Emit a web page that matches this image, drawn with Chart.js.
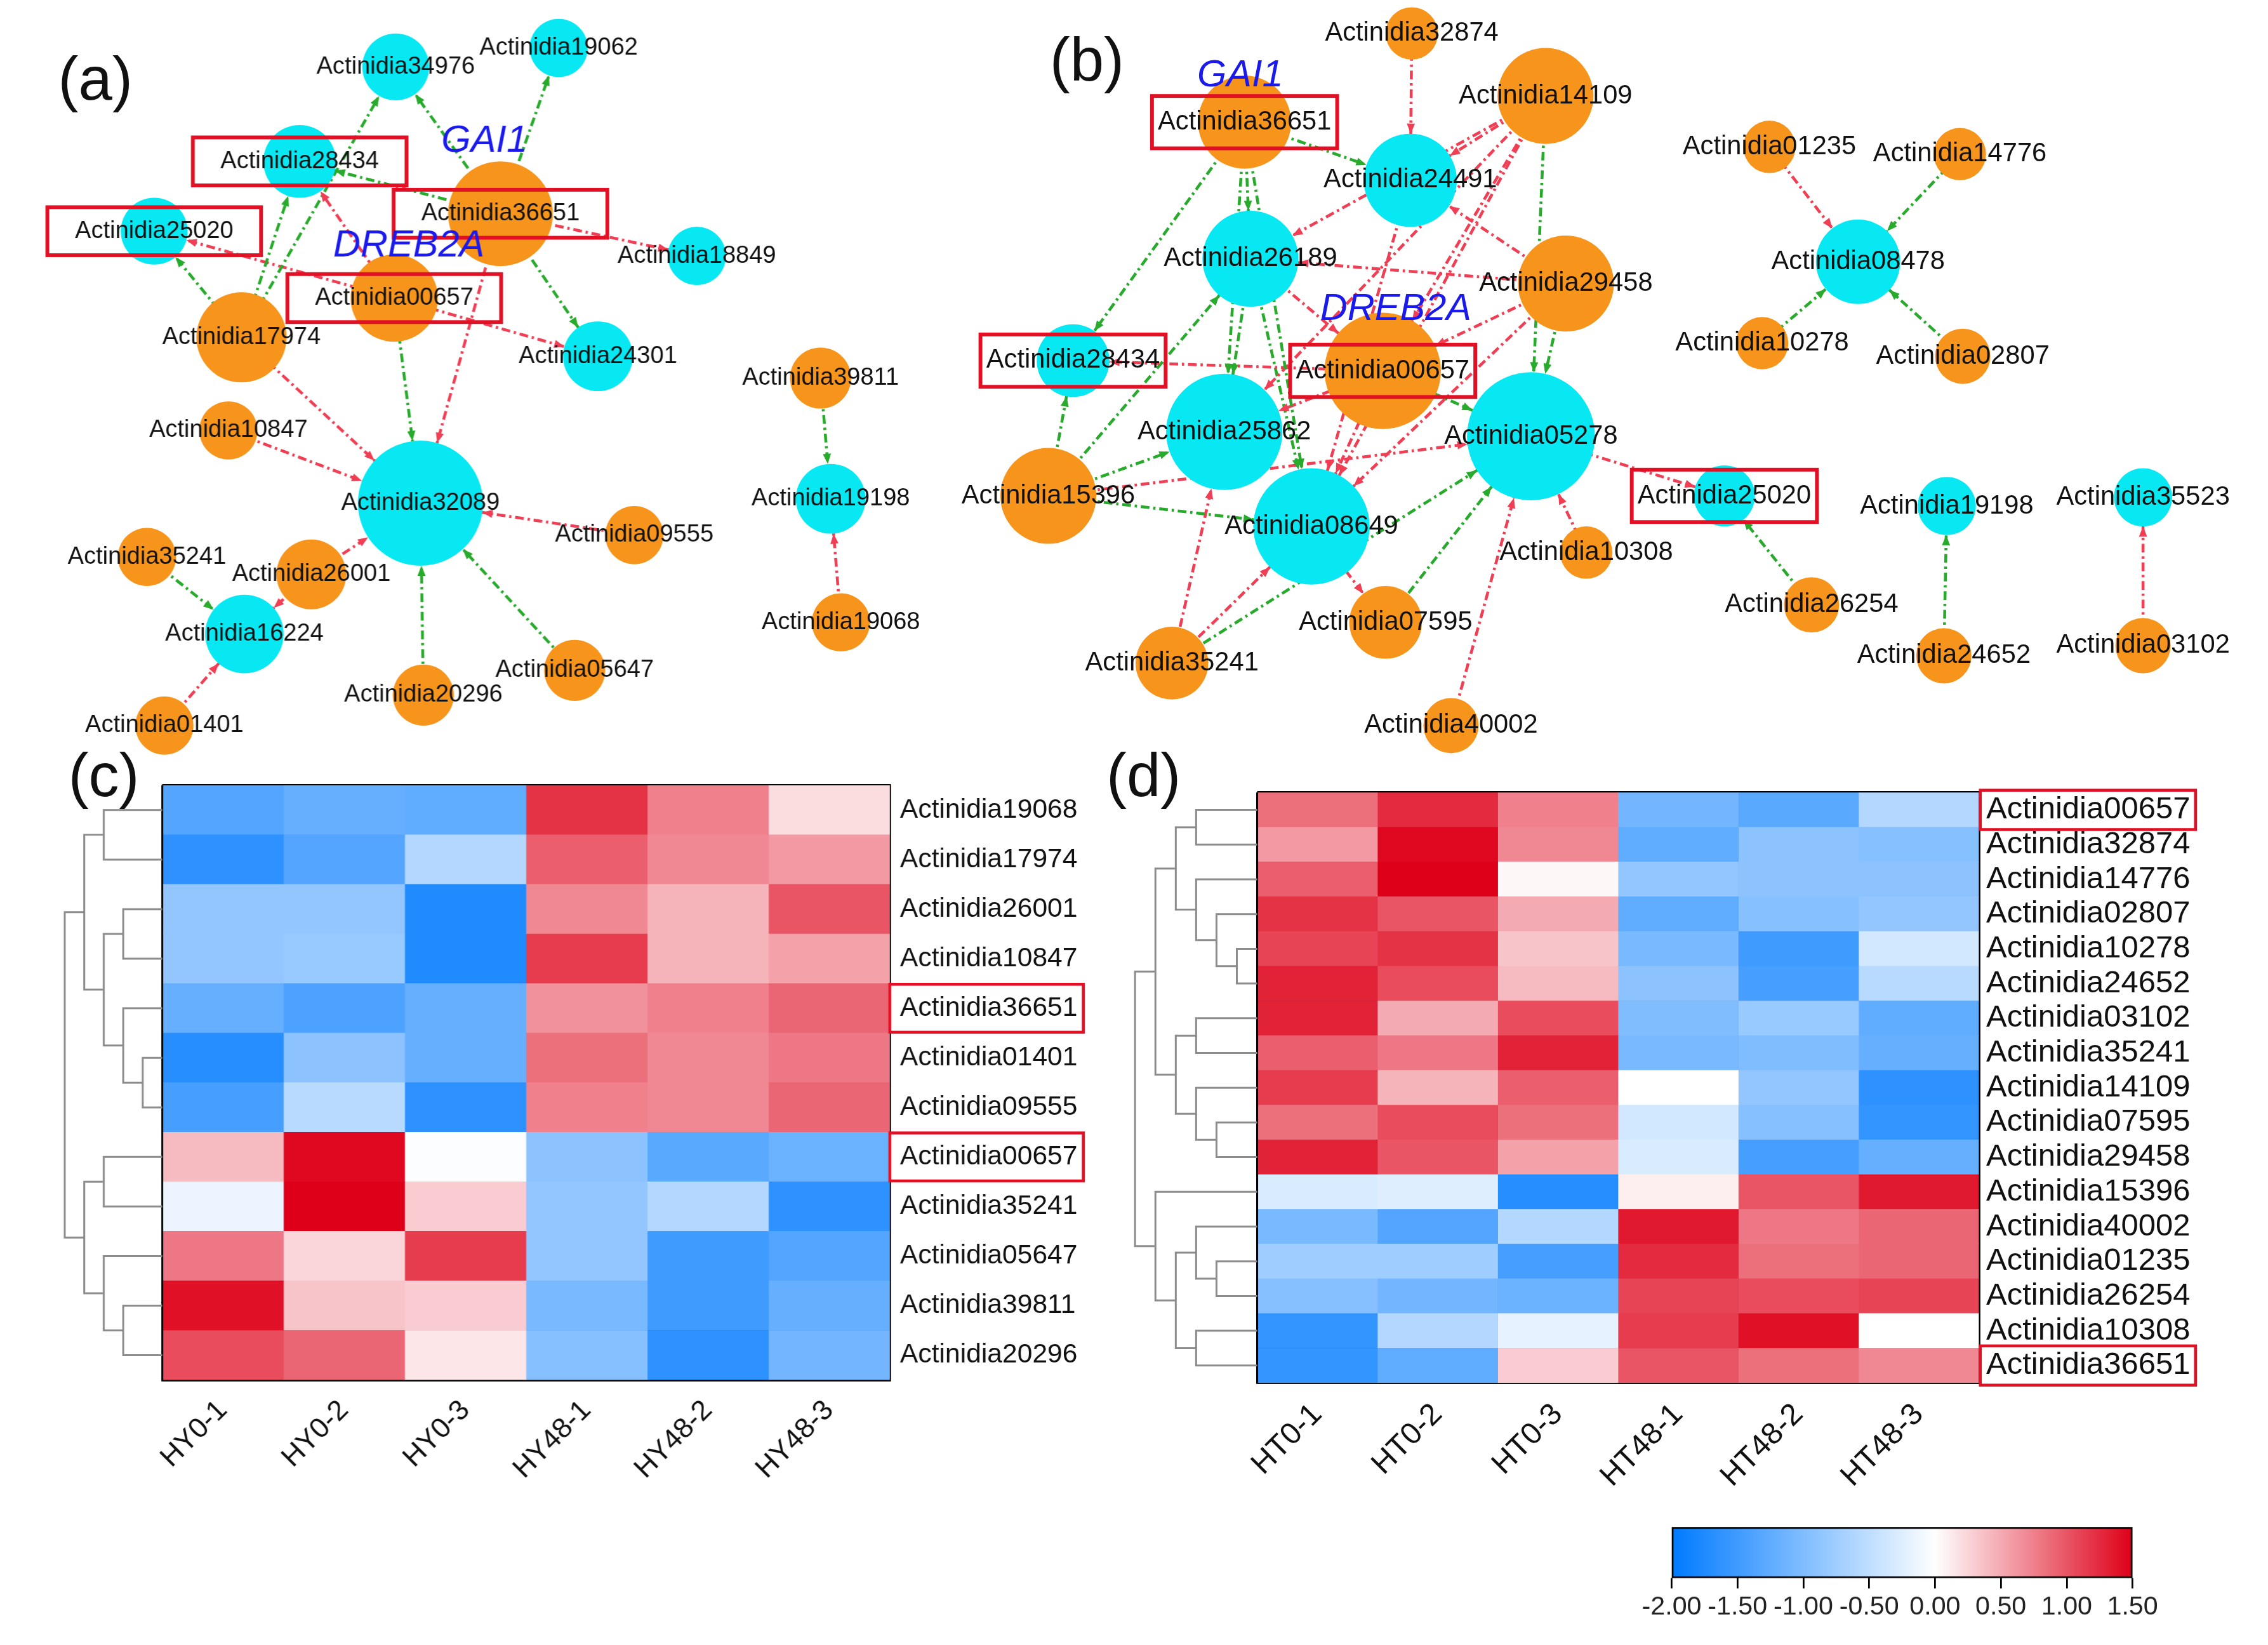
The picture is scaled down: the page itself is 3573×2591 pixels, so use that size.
<!DOCTYPE html>
<html>
<head>
<meta charset="utf-8">
<title>Actinidia co-expression networks and heatmaps</title>
<script src="https://cdn.jsdelivr.net/npm/chart.js@4.4.1/dist/chart.umd.min.js"></script>
<style>
  html, body { margin: 0; padding: 0; background: #fff; }
  body { width: 3573px; height: 2591px; position: relative; overflow: hidden; font-family: "Liberation Sans", Arial, sans-serif; }
  .box { position: absolute; }
  .tag { position: absolute; font-size: 96px; line-height: 1; color: #111; }
</style>
</head>
<body>
<div class="box" id="boxA"><canvas id="netA"></canvas></div>
<div class="box" id="boxB"><canvas id="netB"></canvas></div>
<div class="box" id="boxC"><canvas id="heatC"></canvas></div>
<div class="box" id="boxD"><canvas id="heatD"></canvas></div>
<div class="box" id="boxBar"><canvas id="colorBar"></canvas></div>
<div class="tag" id="tagA">(a)</div>
<div class="tag" id="tagB">(b)</div>
<div class="tag" id="tagC">(c)</div>
<div class="tag" id="tagD">(d)</div>
<script>
// ---------- network (a): node layout (reference px) ----------
const aGenes  = ['34976','19062','28434','25020','18849','24301','32089','16224','19198',
                 '36651','00657','17974','10847','09555','35241','26001','20296','05647','01401','39811','19068'];
const aX      = [272, 384, 206, 106, 479, 411, 289, 168, 571, 344, 271, 166, 157, 436, 101, 214, 291, 395, 113, 564, 578];
const aY      = [ 46,  33, 111, 159, 176, 245, 346, 436, 343, 147, 205, 232, 296, 368, 383, 395, 478, 461, 499, 260, 428];
const aWeight = [ 23,  20,  25,  23,  20,  24,  43,  27,  24,  36,  30,  31,  20,  20,  20,  24,  21,  21,  20,  21,  20];
const aKind   = ['T','T','T','T','T','T','T','T','T','R','R','R','R','R','R','R','R','R','R','R','R'];
const aEdges = [
  ['36651','34976','+'], ['36651','19062','+'], ['36651','28434','+'], ['17974','34976','+'],
  ['17974','28434','+'], ['17974','25020','+'], ['00657','25020','-'], ['00657','28434','-'],
  ['36651','18849','-'], ['36651','24301','+'], ['00657','24301','-'], ['00657','32089','+'],
  ['36651','32089','-'], ['17974','32089','-'], ['10847','32089','-'], ['09555','32089','-'],
  ['26001','32089','-'], ['20296','32089','+'], ['05647','32089','+'], ['35241','16224','+'],
  ['26001','16224','-'], ['01401','16224','-'], ['39811','19198','+'], ['19068','19198','-']
];
const aBoxed = ['28434','36651','25020','00657'];
const aNames = [['36651','GAI1',-11,-50], ['00657','DREB2A',10,-36]];

// ---------- network (b) ----------
const bGenes  = ['24491','26189','28434','25862','05278','08649','25020','08478','19198','35523',
                 '32874','14109','36651','29458','00657','15396','35241','07595','10308','40002',
                 '01235','14776','10278','02807','26254','24652','03102'];
const bX      = [970, 860, 738, 842, 1053, 902, 1186, 1278, 1339, 1474,
                 971, 1063, 856, 1077, 951, 721, 806, 953, 1091, 998,
                 1217, 1348, 1212, 1350, 1246, 1337, 1474];
const bY      = [124, 178, 248, 297, 300, 362, 341, 180, 348, 342,
                  23,  66,  84, 195, 255, 341, 456, 428, 380, 499,
                 101, 106, 236, 245, 416, 451, 444];
const bWeight = [32, 33, 25, 40, 44, 40, 21, 29, 20, 20,
                 18, 33, 32, 33, 40, 33, 25, 25, 18, 19,
                 18, 18, 18, 19, 19, 19, 19];
const bKind   = ['T','T','T','T','T','T','T','T','T','T',
                 'R','R','R','R','R','R','R','R','R','R','R','R','R','R','R','R','R'];
const bEdges = [
  ['32874','24491','-'], ['36651','24491','+'], ['36651','26189','+'], ['36651','25862','+'],
  ['36651','08649','+'], ['36651','28434','+'], ['14109','24491','-'], ['14109','26189','-'],
  ['14109','00657','-'], ['14109','25862','-'], ['14109','08649','-'], ['14109','05278','+'],
  ['29458','05278','+'], ['29458','24491','-'], ['29458','26189','-'], ['29458','00657','-'],
  ['29458','08649','-'], ['24491','08649','-'], ['00657','28434','-'], ['26189','00657','-'],
  ['26189','25862','+'], ['26189','08649','+'], ['15396','28434','+'], ['15396','26189','+'],
  ['15396','25862','+'], ['15396','08649','+'], ['15396','05278','-'], ['00657','25862','-'],
  ['00657','08649','-'], ['00657','05278','+'], ['05278','25020','-'], ['35241','25862','-'],
  ['35241','08649','-'], ['35241','05278','+'], ['08649','07595','-'], ['07595','05278','+'],
  ['40002','05278','-'], ['10308','05278','-'], ['26254','25020','+'], ['01235','08478','-'],
  ['14776','08478','+'], ['10278','08478','+'], ['02807','08478','+'], ['24652','19198','+'],
  ['03102','35523','-']
];
const bBoxed = ['36651','28434','00657','25020'];
const bNames = [['36651','GAI1',-3,-32], ['00657','DREB2A',9,-42]];

// ---------- heatmap (c) ----------
const cGenes = ['19068','17974','26001','10847','36651','01401','09555','00657','35241','05647','39811','20296'];
const cCols  = ['HY0-1','HY0-2','HY0-3','HY48-1','HY48-2','HY48-3'];
const cValues = [
  [-1.35, -1.2, -1.25,  1.2,  0.75,  0.2],
  [-1.65, -1.35, -0.6,  0.95, 0.7,   0.6],
  [-0.85, -0.85, -1.75, 0.7,  0.45,  1.0],
  [-0.85, -0.8, -1.75,  1.15, 0.45,  0.55],
  [-1.2, -1.4, -1.2,    0.65, 0.75,  0.9],
  [-1.7, -0.9, -1.2,    0.85, 0.7,   0.8],
  [-1.45, -0.55, -1.65, 0.75, 0.7,   0.9],
  [ 0.4,  1.45, -0.03, -0.9, -1.3,  -1.15],
  [-0.15, 1.5,  0.3,   -0.85, -0.6, -1.65],
  [ 0.8,  0.25, 1.15,  -0.85, -1.5, -1.35],
  [ 1.4,  0.35, 0.3,   -1.05, -1.5, -1.2],
  [ 1.05, 0.9,  0.15,  -0.95, -1.65, -1.1]
];
// merge tree: [height, left, right]
const cTree = [5,
  [4, [3,'19068','17974'], [3, [2,'26001','10847'], [2,'36651',[1,'01401','09555']]]],
  [4, [3,'00657','35241'], [3,'05647',[2,'39811','20296']]]];
const cBoxed = ['36651','00657'];

// ---------- heatmap (d) ----------
const dGenes = ['00657','32874','14776','02807','10278','24652','03102','35241','14109',
                '07595','29458','15396','40002','01235','26254','10308','36651'];
const dCols  = ['HT0-1','HT0-2','HT0-3','HT48-1','HT48-2','HT48-3'];
const dValues = [
  [ 0.85, 1.25, 0.75, -1.1,  -1.3,  -0.6],
  [ 0.6,  1.45, 0.7,  -1.25, -0.9,  -0.95],
  [ 0.95, 1.5,  0.05, -0.85, -0.9,  -0.9],
  [ 1.2,  1.0,  0.5,  -1.25, -0.95, -0.85],
  [ 1.1,  1.2,  0.35, -1.05, -1.5,  -0.35],
  [ 1.3,  1.05, 0.4,  -0.9,  -1.45, -0.55],
  [ 1.3,  0.5,  1.05, -1.0,  -0.8,  -1.25],
  [ 0.95, 0.8,  1.3,  -1.05, -1.0,  -1.2],
  [ 1.15, 0.45, 0.95,  0.0,  -0.85, -1.65],
  [ 0.85, 1.05, 0.85, -0.35, -0.95, -1.6],
  [ 1.3,  1.0,  0.55, -0.3,  -1.45, -1.2],
  [-0.3, -0.25, -1.7,  0.1,   1.0,   1.35],
  [-1.05, -1.35, -0.6, 1.35,  0.8,   0.9],
  [-0.75, -0.75, -1.45, 1.25, 0.85,  0.9],
  [-0.95, -1.1, -1.15, 1.1,   1.05,  1.1],
  [-1.6, -0.6, -0.2,   1.15,  1.4,   0.0],
  [-1.6, -1.25, 0.3,   1.0,   0.85,  0.7]
];
const dTree = [6,
  [5, [4, [3,'00657','32874'], [3,'14776',[2,'02807',[1,'10278','24652']]]],
      [4, [3,'03102','35241'], [3,'14109',[2,'07595','29458']]]],
  [5, '15396', [4, [3,'40002',[2,'01235','26254']], [3,'10308','36651']]]];
const dBoxed = ['00657','36651'];

// ---------- colour key ----------
const keyMin = -2.0;
const keyMax = 1.5;
const keyStep = 0.5;

// ---------- drawing ----------
const S = 3573 / 1560;            // the reference measurements were taken at 1560 px width
const FONT = '"Liberation Sans", Arial, sans-serif';
const GREEN = 'rgb(40,170,44)';
const RED = 'rgb(240,62,84)';
const ORANGE = 'rgb(247,148,28)';
const CYAN = 'rgb(8,232,242)';
const NAME_BLUE = 'rgb(26,26,236)';
const BOX_RED = 'rgb(226,16,36)';

Chart.defaults.font.family = FONT;
Chart.defaults.color = '#111';
Chart.defaults.animation = false;

function place(id, x, y, w, h) {
  const el = document.getElementById(id);
  el.style.left = x * S + 'px';
  el.style.top = y * S + 'px';
  if (w) el.style.width = w * S + 'px';
  if (h) el.style.height = h * S + 'px';
}

// blue (-2) -> white (0) -> red (1.5)
function heat(v) {
  if (v < 0) {
    const t = Math.min(-v / 2, 1);
    return `rgb(${Math.round(255 * (1 - t))},${Math.round(255 - 133 * t)},255)`;
  }
  const t = Math.min(v / 1.5, 1);
  return `rgb(${Math.round(255 - 33 * t)},${Math.round(255 * (1 - t))},${Math.round(255 - 231 * t)})`;
}

function drawNetwork(canvasId, view, genes, xs, ys, weight, kind, edges, boxed, names, st) {
  const at = Object.fromEntries(genes.map((g, i) => [g, i]));
  const nodeSet = {
    type: 'scatter',
    data: genes.map((g, i) => ({ x: xs[i], y: ys[i] })),
    pointRadius: weight.map(w => w * S),
    pointHoverRadius: weight.map(w => w * S),
    pointBackgroundColor: kind.map(k => k === 'R' ? ORANGE : CYAN),
    pointBorderWidth: 0,
    order: 0
  };
  const edgeSets = edges.map(([s, t, sign]) => ({
    type: 'line',
    data: [{ x: xs[at[s]], y: ys[at[s]] }, { x: xs[at[t]], y: ys[at[t]] }],
    borderColor: sign === '+' ? GREEN : RED,
    borderWidth: 2 * S,
    borderDash: [6 * S, 2.6 * S, 1.6 * S, 2.6 * S],
    pointRadius: 0,
    order: 1,
    target: at[t]
  }));

  new Chart(document.getElementById(canvasId), {
    type: 'scatter',
    data: { datasets: [nodeSet, ...edgeSets] },
    options: {
      responsive: true,
      maintainAspectRatio: false,
      devicePixelRatio: 1,
      events: [],
      layout: { autoPadding: false, padding: 0 },
      plugins: { legend: { display: false }, tooltip: { enabled: false } },
      scales: {
        x: { type: 'linear', display: false, min: view[0], max: view[1] },
        y: { type: 'linear', display: false, min: view[2], max: view[3], reverse: true }
      }
    },
    plugins: [{
      id: 'netMarks',
      afterDatasetsDraw(chart) {
        const c = chart.ctx;
        const pts = chart.getDatasetMeta(0).data;
        c.save();
        // arrow heads at the target node rim
        chart.data.datasets.forEach((ds, i) => {
          if (i === 0) return;
          const [p0, p1] = chart.getDatasetMeta(i).data;
          const dx = p1.x - p0.x, dy = p1.y - p0.y;
          const len = Math.hypot(dx, dy) || 1;
          const ux = dx / len, uy = dy / len;
          const r = weight[ds.target] * S;
          const tx = p1.x - ux * r, ty = p1.y - uy * r;
          const L = 7 * S, W = 2.8 * S;
          c.fillStyle = ds.borderColor;
          c.beginPath();
          c.moveTo(tx, ty);
          c.lineTo(tx - ux * L - uy * W, ty - uy * L + ux * W);
          c.lineTo(tx - ux * L + uy * W, ty - uy * L - ux * W);
          c.closePath();
          c.fill();
        });
        // red frames round the highlighted genes
        c.font = `${st.label * S}px ${FONT}`;
        c.lineWidth = st.boxLine * S;
        c.strokeStyle = BOX_RED;
        boxed.forEach(g => {
          const p = pts[at[g]];
          const w = c.measureText('Actinidia' + g).width + 2 * st.padX * S;
          const h = st.boxH * S;
          c.strokeRect(p.x - w / 2, p.y - h / 2, w, h);
        });
        // node labels
        c.fillStyle = '#111';
        c.textAlign = 'center';
        c.textBaseline = 'middle';
        genes.forEach((g, i) => c.fillText('Actinidia' + g, pts[i].x, pts[i].y));
        // gene names
        c.font = `italic ${st.name * S}px ${FONT}`;
        c.fillStyle = NAME_BLUE;
        names.forEach(([g, name, dx, dy]) => {
          const p = pts[at[g]];
          c.fillText(name, p.x + dx * S, p.y + dy * S);
        });
        c.restore();
      }
    }]
  });
}

function drawHeatmap(canvasId, genes, cols, values, tree, boxed, st) {
  const idx = Object.fromEntries(genes.map((g, i) => [g, i]));
  const datasets = cols.map((col, j) => ({
    label: col,
    data: genes.map(() => 1),
    backgroundColor: values.map(row => heat(row[j])),
    borderWidth: 0,
    barPercentage: 1,
    categoryPercentage: 1
  }));
  const lw = 1.6 * S;

  new Chart(document.getElementById(canvasId), {
    type: 'bar',
    data: { labels: genes.map(g => 'Actinidia' + g), datasets },
    options: {
      indexAxis: 'y',
      responsive: true,
      maintainAspectRatio: false,
      devicePixelRatio: 1,
      events: [],
      layout: { padding: { left: st.left * S, top: st.top * S, right: 0, bottom: 0 } },
      plugins: { legend: { display: false }, tooltip: { enabled: false } },
      scales: {
        x: {
          type: 'linear', stacked: true, min: 0, max: cols.length, position: 'bottom', z: 1,
          ticks: { display: false, stepSize: 1 },
          grid: { color: '#000', lineWidth: lw, drawTicks: false },
          border: { display: true, color: '#000', width: lw },
          afterFit(s) { s.height = 0; }
        },
        x2: {
          type: 'category', labels: cols, position: 'bottom', offset: true,
          grid: { display: false }, border: { display: false },
          ticks: { color: '#111', font: { size: st.col * S }, minRotation: 45, maxRotation: 45,
                   padding: st.colPad * S, autoSkip: false },
          afterFit(s) { s.height = st.bottom * S; }
        },
        y: {
          type: 'category', stacked: true, position: 'right', offset: true, z: 1,
          grid: { color: '#000', lineWidth: lw, offset: true, drawTicks: false },
          border: { display: true, color: '#000', width: lw },
          ticks: { color: '#111', font: { size: st.row * S }, padding: st.rowPad * S, autoSkip: false },
          afterFit(s) { s.width = st.right * S; }
        }
      }
    },
    plugins: [{
      id: 'dendrogram',
      afterDraw(chart) {
        const c = chart.ctx;
        const ys = chart.scales.y;
        const area = chart.chartArea;
        const xAt = h => area.left - h * st.step * S;
        c.save();
        c.strokeStyle = '#8c8c8c';
        c.lineWidth = 1.3 * S;
        const walk = node => {
          if (typeof node === 'string') return { y: ys.getPixelForValue(idx[node]), h: 0 };
          const [h, l, r] = node;
          const a = walk(l), b = walk(r), x = xAt(h);
          c.beginPath();
          c.moveTo(xAt(a.h), a.y);
          c.lineTo(x, a.y);
          c.lineTo(x, b.y);
          c.lineTo(xAt(b.h), b.y);
          c.stroke();
          return { y: (a.y + b.y) / 2, h };
        };
        walk(tree);
        c.strokeStyle = BOX_RED;
        c.lineWidth = st.boxLine * S;
        boxed.forEach(g => {
          const y = ys.getPixelForValue(idx[g]);
          c.strokeRect(area.right + st.boxX * S, y - st.boxH * S / 2, st.boxW * S, st.boxH * S);
        });
        c.restore();
      }
    }]
  });
}

function drawKey(canvasId) {
  const stops = [];
  for (let v = keyMin; v <= keyMax + 1e-9; v += 0.25) stops.push(v);
  new Chart(document.getElementById(canvasId), {
    type: 'bar',
    data: {
      labels: [''],
      datasets: [{
        data: [[keyMin, keyMax]],
        backgroundColor(ctx) {
          const chart = ctx.chart;
          if (!chart.chartArea) return 'rgba(0,0,0,0)';
          const x = chart.scales.x;
          const x0 = x.getPixelForValue(keyMin), x1 = x.getPixelForValue(keyMax);
          const g = chart.ctx.createLinearGradient(x0, 0, x1, 0);
          stops.forEach(v => g.addColorStop((v - keyMin) / (keyMax - keyMin), heat(v)));
          return g;
        },
        borderColor: '#000',
        borderWidth: 1.4 * S,
        borderSkipped: false,
        barPercentage: 1,
        categoryPercentage: 1
      }]
    },
    options: {
      indexAxis: 'y',
      responsive: true,
      maintainAspectRatio: false,
      devicePixelRatio: 1,
      events: [],
      layout: { padding: { left: 50 * S, right: 53 * S, top: 10 * S, bottom: 0 } },
      plugins: { legend: { display: false }, tooltip: { enabled: false } },
      scales: {
        y: { display: false },
        x: {
          type: 'linear', min: keyMin, max: keyMax,
          ticks: { stepSize: keyStep, autoSkip: false, maxRotation: 0, color: '#222',
                   font: { size: 18 * S }, padding: 2 * S, callback: v => v.toFixed(2) },
          grid: { drawOnChartArea: false, drawTicks: true, tickLength: 7 * S, color: '#000', lineWidth: 1.2 * S },
          border: { display: false },
          afterFit(s) { s.height = 30 * S; }
        }
      }
    }
  });
}

place('boxA', 0, 0, 640, 520);
place('boxB', 640, 0, 920, 520);
place('boxC', 0, 520, 780, 520);
place('boxD', 760, 520, 800, 520);
place('boxBar', 1100, 1040, 420, 75);
place('tagA', 40, 33);
place('tagB', 722, 20);
place('tagC', 47, 512);
place('tagD', 761, 512);

drawNetwork('netA', [0, 640, 0, 520], aGenes, aX, aY, aWeight, aKind, aEdges, aBoxed, aNames,
  { label: 16.6, name: 26, padX: 19, boxH: 33, boxLine: 2.6 });
drawNetwork('netB', [640, 1560, 0, 520], bGenes, bX, bY, bWeight, bKind, bEdges, bBoxed, bNames,
  { label: 18.2, name: 26, padX: 4, boxH: 36, boxLine: 2.6 });
drawHeatmap('heatC', cGenes, cCols, cValues, cTree, cBoxed,
  { left: 111.5, top: 20, right: 168.3, bottom: 91, row: 18.6, rowPad: 7, col: 19.5, colPad: 6,
    step: 13.4, boxX: 0, boxW: 133, boxH: 33, boxLine: 2 });
drawHeatmap('heatD', dGenes, dCols, dValues, dTree, dBoxed,
  { left: 104.6, top: 25, right: 199, bottom: 89, row: 21.4, rowPad: 5, col: 21, colPad: 6,
    step: 14, boxX: 1, boxW: 148, boxH: 27, boxLine: 2 });
drawKey('colorBar');
</script>
</body>
</html>
